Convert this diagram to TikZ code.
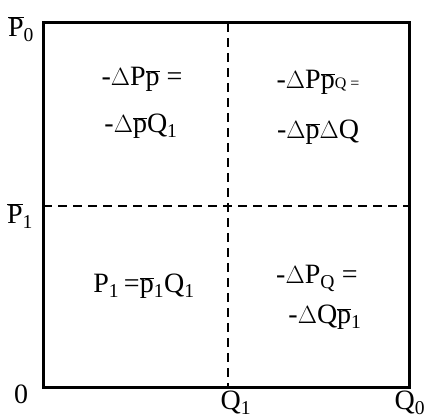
\documentclass[tikz,border=0pt]{standalone}
\usepackage{fontspec}
\setmainfont{Liberation Serif}
\newcommand{\pb}{$\overline{\mbox{p}}$}
\newcommand{\Pb}{$\overline{\mbox{P}}$}
\newcommand{\sub}[1]{\textsubscript{#1}}
\begin{document}
\begin{tikzpicture}[x=1pt,y=-1pt,line cap=butt,line join=miter,
  lbl/.style={anchor=base,inner sep=0pt,font=\fontsize{28}{32}\selectfont},
  dashline/.style={line width=1.8pt,dash pattern=on 9pt off 6pt}]
  \useasboundingbox (0,0) rectangle (429,419);
  % frame
  \draw[line width=3pt] (43,23) -- (409,23) -- (409,388) -- (43,388) -- cycle;
  \draw[dashline] (228,23) -- (228,388);
  \draw[dashline] (43,206) -- (409,206);
  % axis labels
  \node[lbl] (p0) at (21,37) {\Pb\sub{0}};
  \node[lbl] (p1) at (20,224) {\Pb\sub{1}};
  \node[lbl] (o) at (21,404) {0};
  \node[lbl] (q1) at (236,410) {Q\sub{1}};
  \node[lbl] (q0) at (410,410) {Q\sub{0}};
  % cells
  \node[lbl] (tl1) at (142,86) {-$\Delta$P\pb\ =};
  \node[lbl] (tl2) at (141,133) {-$\Delta$\pb Q\sub{1}};
  \node[lbl] (tr1) at (318,89) {-$\Delta$P\pb{\fontsize{16}{18}\selectfont Q =}};
  \node[lbl] (tr2) at (318,139) {-$\Delta$\pb$\Delta$Q};
  \node[lbl] (bl) at (144,293) {P\sub{1}\,=\pb\sub{1}Q\sub{1}};
  \node[lbl] (br1) at (317,284) {-$\Delta$P\sub{Q} =};
  \node[lbl] (br2) at (325,324) {-$\Delta$Q\pb\sub{1}};
\end{tikzpicture}
\end{document}
